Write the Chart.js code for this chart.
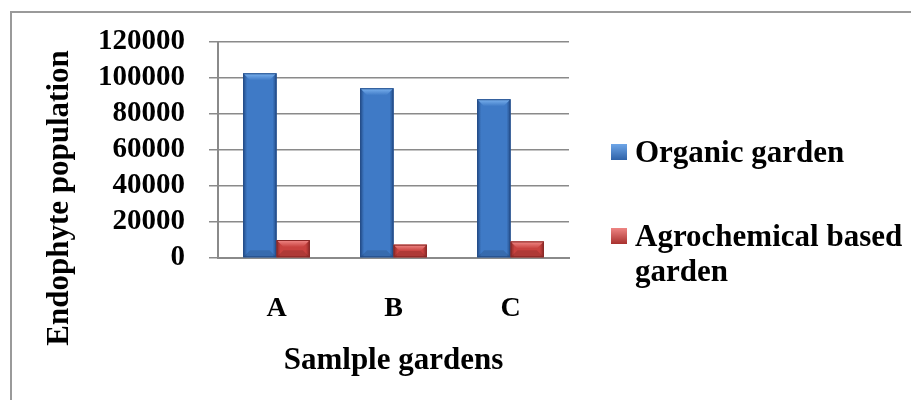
<!DOCTYPE html>
<html>
<head>
<meta charset="utf-8">
<script src="https://cdn.jsdelivr.net/npm/chart.js@4"></script>
<style>
  html, body { margin: 0; padding: 0; background: #fff; overflow: hidden; }
  #wrap { position: relative; width: 911px; height: 400px; }
  #frame { position: absolute; left: 10px; top: 11px; width: 1000px; height: 500px;
           border-top: 2px solid #9a9a9a; border-left: 2px solid #9a9a9a; }
  #legend { position: absolute; left: 611px; top: 131px; font: bold 31px "Liberation Serif", serif; color: #000; }
  .item { position: relative; padding-left: 24px; line-height: 35px; }
  .box { position: absolute; left: 0; width: 16px; height: 16px; }
</style>
</head>
<body>
<div id="wrap">
  <div id="frame"></div>
  <canvas id="chart" width="911" height="400"></canvas>
  <div id="legend"></div>
</div>
<script>
// data
const categories = ["A", "B", "C"];
const organic = [102600, 94300, 88200];
const agro = [10000, 7400, 9200];
const seriesNames = ["Organic garden", "Agrochemical based garden"];
const yTicks = [0, 20000, 40000, 60000, 80000, 100000, 120000];

// colours: [edge, body, top light]
const blueCols = ["#244d88", "#3f7ac6", "#7db4f0"];
const redCols = ["#8a2927", "#c8423f", "#f28b89"];

// 🎨 HTML legend (two lines for second series)
const legend = document.getElementById("legend");
legend.innerHTML =
  '<div class="item" style="margin-top:3px"><span class="box" style="top:10px;background:linear-gradient(#6ea6e8,#2f62a8)"></span>Organic garden</div>' +
  '<div class="item" style="margin-top:49px"><span class="box" style="top:10px;background:linear-gradient(#ee8583,#a8312e)"></span>Agrochemical based<br>garden</div>';

// bevel look on each bar
const bevelPlugin = {
  id: "bevel",
  afterDatasetsDraw(chart) {
    const c = chart.ctx;
    chart.data.datasets.forEach((ds, i) => {
      const cols = i === 0 ? blueCols : redCols;
      chart.getDatasetMeta(i).data.forEach(bar => {
        const x0 = bar.x - bar.width / 2, x1 = bar.x + bar.width / 2;
        const top = bar.y, bot = bar.base;
        const h = bot - top;
        const bev = Math.min(7, h / 2);
        c.save();
        let g = c.createLinearGradient(x0, 0, x1, 0);
        g.addColorStop(0, cols[0]);
        g.addColorStop(0.12, cols[1]);
        g.addColorStop(0.5, cols[1]);
        g.addColorStop(0.88, cols[1]);
        g.addColorStop(1, cols[0]);
        c.fillStyle = g;
        c.fillRect(x0, top, x1 - x0, h);
        // top light trapezoid
        let tg = c.createLinearGradient(0, top, 0, top + bev);
        tg.addColorStop(0, cols[2]);
        tg.addColorStop(1, cols[1]);
        c.fillStyle = tg;
        c.beginPath();
        c.moveTo(x0, top); c.lineTo(x1, top);
        c.lineTo(x1 - bev, top + bev); c.lineTo(x0 + bev, top + bev);
        c.closePath(); c.fill();
        // bottom darker trapezoid
        c.fillStyle = "rgba(0,0,0,0.12)";
        c.beginPath();
        c.moveTo(x0, bot); c.lineTo(x1, bot);
        c.lineTo(x1 - bev, bot - bev); c.lineTo(x0 + bev, bot - bev);
        c.closePath(); c.fill();
        c.strokeStyle = cols[0];
        c.lineWidth = 1;
        c.strokeRect(x0 + 0.5, top + 0.5, x1 - x0 - 1, h - 1);
        c.restore();
      });
    });
  }
};

// y title, centred lower like the original
const yTitlePlugin = {
  id: "ytitle",
  afterDraw(chart) {
    const c = chart.ctx;
    c.save();
    c.translate(60, 198);
    c.rotate(-Math.PI / 2);
    c.font = 'bold 31px "Liberation Serif"';
    c.fillStyle = "#000";
    c.textAlign = "center";
    c.textBaseline = "middle";
    c.fillText("Endophyte population", 0, 0);
    c.restore();
  }
};

const ctx = document.getElementById("chart");
const chart = new Chart(ctx, {
  type: "bar",
  data: {
    labels: categories,
    datasets: [
      { label: seriesNames[0], data: organic, backgroundColor: blueCols[1] },
      { label: seriesNames[1], data: agro, backgroundColor: redCols[1] }
    ]
  },
  options: {
    responsive: false,
    animation: false,
    categoryPercentage: 0.57,
    barPercentage: 1.0,
    layout: { padding: { top: 42, right: 342, left: 0, bottom: 0 } },
    plugins: { legend: { display: false }, tooltip: { enabled: false } },
    scales: {
      x: {
        grid: { display: false, drawTicks: false },
        border: { display: true, color: "#8a8a8a", width: 2 },
        ticks: { color: "#000", font: { family: "Liberation Serif", size: 28, weight: "bold" }, padding: 34 },
        title: { display: true, text: "Samlple gardens", color: "#000",
                 font: { family: "Liberation Serif", size: 31, weight: "bold" }, padding: { top: 0, bottom: 20 } },
        afterFit(scale) { scale.height = 142; }
      },
      y: {
        min: 0, max: 120000,
        afterBuildTicks(scale) { scale.ticks = yTicks.map(v => ({ value: v })); },
        grid: { color: "#8a8a8a", lineWidth: 1.5, tickLength: 9 },
        border: { display: true, color: "#8a8a8a", width: 2 },
        ticks: { color: "#000", font: { family: "Liberation Serif", size: 29, weight: "bold" }, padding: 24,
                 autoSkip: false, callback: v => String(v) },
        afterFit(scale) { scale.width = 218; }
      }
    }
  },
  plugins: [bevelPlugin, yTitlePlugin]
});
</script>
</body>
</html>
